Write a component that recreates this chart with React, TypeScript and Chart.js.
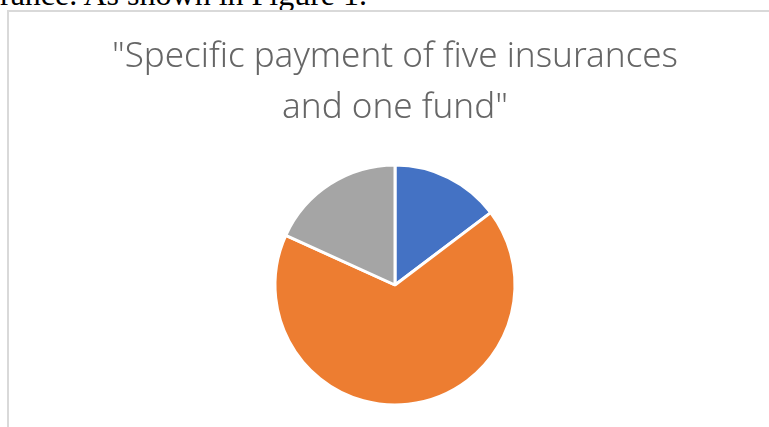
import React, { useEffect, useRef } from "react";
import { Chart, registerables } from "chart.js";

Chart.register(...registerables);

const categories = ["Personal", "Company", "Other"];
const values = [14.7, 67.1, 18.2];
const colors = ["#4472C4", "#ED7D31", "#A5A5A5"];
const titleLines = ['"Specific payment of five insurances', 'and one fund"'];
const topText = "rance. As shown in Figure 1.";

export default function App() {
  const ref = useRef<HTMLCanvasElement | null>(null);

  useEffect(() => {
    if (!ref.current) return;
    const chart = new Chart(ref.current, {
      type: "pie",
      data: {
        labels: categories,
        datasets: [
          {
            data: values,
            backgroundColor: colors,
            borderColor: "#ffffff",
            borderWidth: 3,
          },
        ],
      },
      options: {
        animation: false,
        responsive: false,
        maintainAspectRatio: false,
        layout: { padding: { top: 0, bottom: 20.5, left: 0, right: 0 } },
        plugins: {
          legend: { display: false },
          tooltip: { enabled: false },
          title: {
            display: true,
            text: titleLines,
            color: "#666666",
            font: { family: "'Noto Sans', Roboto, sans-serif", size: 35, weight: "300", lineHeight: 1.45 },
            padding: { top: 21.8, bottom: 30.2 },
          },
        },
      },
    });
    return () => chart.destroy();
  }, []);

  return (
    <div style={{ position: "fixed", left: 0, top: 0, width: 769, height: 427, overflow: "hidden", background: "#fff" }}>
      <div
        style={{
          position: "absolute",
          left: 0,
          top: -22,
          fontFamily: "'Liberation Serif', 'Times New Roman', serif",
          fontSize: 32,
          lineHeight: "32px",
          whiteSpace: "nowrap",
          color: "#000",
        }}
      >
        {topText}
      </div>
      <div
        style={{
          position: "absolute",
          left: 7,
          top: 10,
          width: 820,
          height: 500,
          borderLeft: "2px solid #d9d9d9",
          borderTop: "2px solid #d9d9d9",
        }}
      />
      <canvas ref={ref} width={750} height={417} style={{ position: "absolute", left: 20, top: 10, width: 750, height: 417 }} />
    </div>
  );
}
